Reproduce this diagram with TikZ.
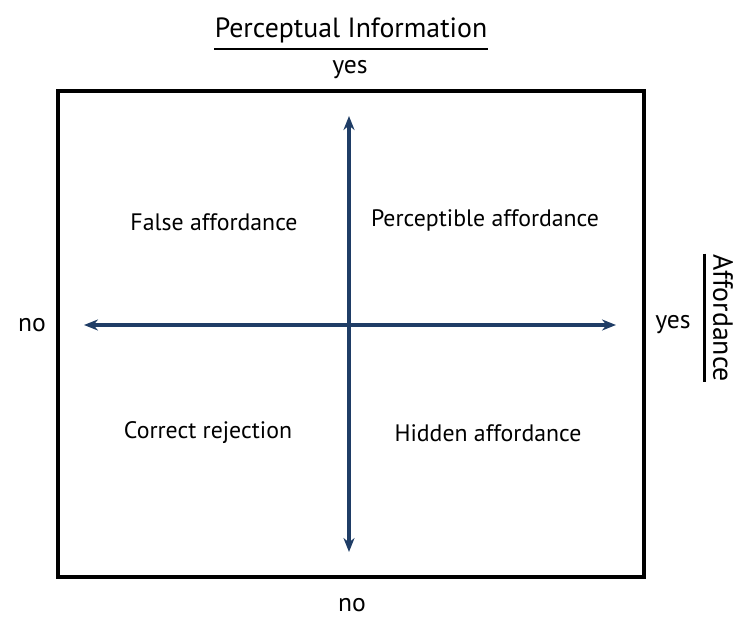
\documentclass[tikz,border=0pt]{standalone}
\usepackage{fontspec}
\setmainfont{PT Sans}
\usetikzlibrary{arrows.meta}
\definecolor{axisblue}{RGB}{31,61,102}
\tikzset{
  axis/.style={axisblue, line width=1.6pt, -{Stealth[length=7pt,width=5.5pt]}},
  quad/.style={font=\fontsize{11.9}{14}\selectfont, inner sep=0pt},
  side/.style={font=\fontsize{12.8}{15}\selectfont, inner sep=0pt},
  title/.style={font=\fontsize{13.9}{16}\selectfont, inner sep=0pt}
}
\begin{document}
\begin{tikzpicture}[x=0.5pt, y=-0.5pt]
   \useasboundingbox (0,0) rectangle (733,618);
   % frame
   \draw[line width=2.2pt] (58,91) rectangle (644,577);

   % axes
   \coordinate (C) at (349,325);
   \coordinate (Top) at (349,116);
   \coordinate (Bot) at (349,552);
   \coordinate (Lft) at (84,325);
   \coordinate (Rgt) at (616,325);
   \draw[axis] (C) -- (Top);
   \draw[axis] (C) -- (Bot);
   \draw[axis] (C) -- (Lft);
   \draw[axis] (C) -- (Rgt);

   % quadrants
   \node(FA)[quad] at (214,222) {False affordance};
   \node(PA)[quad] at (485,220) {Perceptible affordance};
   \node(CR)[quad] at (208,433) {Correct rejection};
   \node(HA)[quad] at (488,433) {Hidden affordance};

   % axis labels
   \node(PI)[title] at (351,30) {Perceptual Information};
   \draw[line width=1.2pt] ([yshift=-3pt]PI.south west) -- ([yshift=-3pt]PI.south east);
   \node(PY)[side] at (350,70) {yes};
   \node(PN)[side] at (352,605) {no};
   \node(AN)[side] at (32,325) {no};
   \node(AY)[side] at (673,325) {yes};
   \node(AF)[title, rotate=-90] at (723,318) {Affordance};
   \draw[line width=1.2pt] ([xshift=-4pt]AF.south west) -- ([xshift=-4pt]AF.south east);
\end{tikzpicture}
\end{document}
